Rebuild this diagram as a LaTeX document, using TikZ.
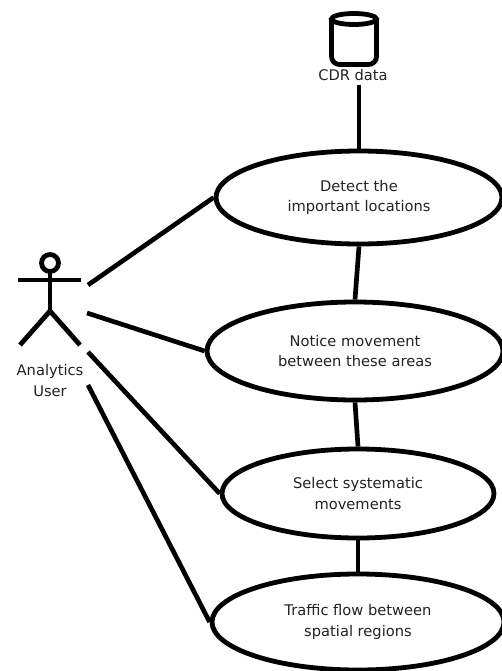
\documentclass[tikz,border=0pt]{standalone}
\usepackage{fontspec}
\setmainfont{DejaVu Sans}
\usetikzlibrary{shapes.geometric}
\definecolor{txt}{HTML}{222222}
\tikzset{x=0.75pt,y=-0.75pt,
 usecase/.style={ellipse,draw,line width=3.6pt,inner sep=0pt,align=center,text=txt,font=\fontsize{11}{15.5}\selectfont},
 lnk/.style={line width=3.5pt},
 lbl/.style={font=\fontsize{11}{15.5}\selectfont,align=center,inner sep=0pt,text=txt}}
\begin{document}
\begin{tikzpicture}
\useasboundingbox (0,0) rectangle (502,671);
\begin{scope}
\clip (0,0) rectangle (502,671);
\node[usecase,minimum width=286*0.75pt,minimum height=93*0.75pt] (e1) at (359,197.5) {Detect the\\important locations};
\node[usecase,minimum width=296*0.75pt,minimum height=98*0.75pt] (e2) at (355,351) {Notice movement\\between these areas};
\node[usecase,minimum width=272*0.75pt,minimum height=89*0.75pt] (e3) at (358,493.5) {Select systematic\\movements};
\node[usecase,minimum width=292*0.75pt,minimum height=96*0.75pt] (e4) at (358,622) {Traffic flow between\\spatial regions};
\node[lbl] (cdr) at (353,75) {CDR data};
\node[lbl] (user) at (50,380.5) {Analytics\\User};
\coordinate (c1) at (88,285);
\coordinate (c2) at (87,313);
\coordinate (c3) at (88,352);
\coordinate (c4) at (88,385);
\coordinate (cdrb) at (359,85);
\draw[lnk] (c1) -- (e1.west);
\draw[lnk] (c2) -- (e2.west);
\draw[lnk] (c3) -- (e3.west);
\draw[lnk] (c4) -- (e4.west);
\draw[lnk] (cdrb) -- (e1.north);
\draw[lnk] (e1.south) -- (e2.north);
\draw[lnk] (e2.south) -- (e3.north);
\draw[lnk] (e3.south) -- (e4.north);
% actor
\coordinate (hip) at (50,311);
\draw[line width=3.6pt] (50,263) circle[radius=8.5*0.75pt];
\draw[line width=3.6pt] (50,272) -- (hip);
\draw[line width=3.6pt] (18,280) -- (81,280);
\draw[line width=3.6pt] (20,345) -- (hip) -- (80,345);
% database
\draw[line width=3.6pt,rounded corners=6pt] (331.5,19) -- (331.5,64.5) -- (376.5,64.5) -- (376.5,19);
\draw[line width=3.6pt] (354,19) ellipse[x radius=22.5*0.75pt,y radius=5.5*0.75pt];
\end{scope}
\end{tikzpicture}
\end{document}
